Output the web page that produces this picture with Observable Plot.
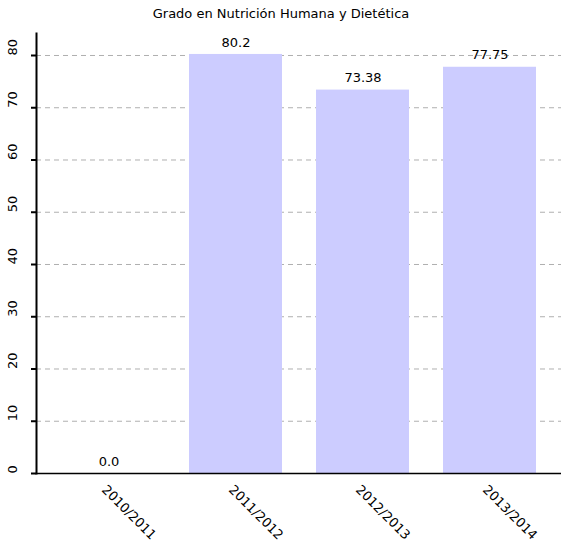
<!DOCTYPE html>
<html>
<head>
<meta charset="utf-8">
<script src="https://cdn.jsdelivr.net/npm/d3@7"></script>
<script src="https://cdn.jsdelivr.net/npm/@observablehq/plot@0.6"></script>
<style>
  html, body { margin: 0; padding: 0; background: #fff; }
  #chart svg { display: block; }
</style>
</head>
<body>
<div id="chart"></div>
<script>
const title = "Grado en Nutrición Humana y Dietética";
const categories = ["2010/2011", "2011/2012", "2012/2013", "2013/2014"];
const values = [0.0, 80.2, 73.38, 77.75];
const valueLabels = ["0.0", "80.2", "73.38", "77.75"];
const yTicks = [0, 10, 20, 30, 40, 50, 60, 70, 80];

const data = categories.map((c, i) => ({cat: c, value: values[i], label: valueLabels[i]}));
const yMax = d3.max(values) * 1.05;

const chart = Plot.plot({
  width: 561,
  height: 553,
  marginTop: 33,
  marginBottom: 80,
  marginLeft: 36,
  marginRight: 0,
  style: {fontFamily: "DejaVu Sans", fontSize: "13px", color: "#000", background: "#fff"},
  x: {domain: categories, padding: 0.27, paddingOuter: 0.2, label: null},
  y: {domain: [0, yMax], label: null},
  marks: [
    Plot.gridY(yTicks, {stroke: "#b0b0b0", strokeOpacity: 1, strokeDasharray: "5,4"}),
    Plot.barY(data, {x: "cat", y: "value", fill: "#ccccff"}),
    Plot.ruleY(data.filter(d => d.value === 0), {x1: d => d.cat, x2: d => d.cat, y: 0}),
    Plot.text(data, {x: "cat", y: "value", text: "label", dy: -12, fontSize: 13, fill: "#000"}),
    Plot.axisY({ticks: yTicks, tickSize: 5, tickFormat: () => "", strokeWidth: 2, stroke: "#000"}),
    Plot.text(yTicks, {y: d => d, frameAnchor: "left", dx: -24, rotate: -90, text: d => String(d), fontSize: 13, fill: "#000"}),
    Plot.axisX({tickRotate: 45, tickSize: 0, tickPadding: 14, dx: -5, fontSize: 13}),
    Plot.frame({anchor: "left", stroke: "#000", strokeWidth: 2}),
    Plot.frame({anchor: "bottom", stroke: "#000", strokeWidth: 1.5}),
    Plot.text([title], {frameAnchor: "top", dx: -18, dy: -25, fontSize: 13, fill: "#000"})
  ]
});
document.getElementById("chart").appendChild(chart);
</script>
</body>
</html>
